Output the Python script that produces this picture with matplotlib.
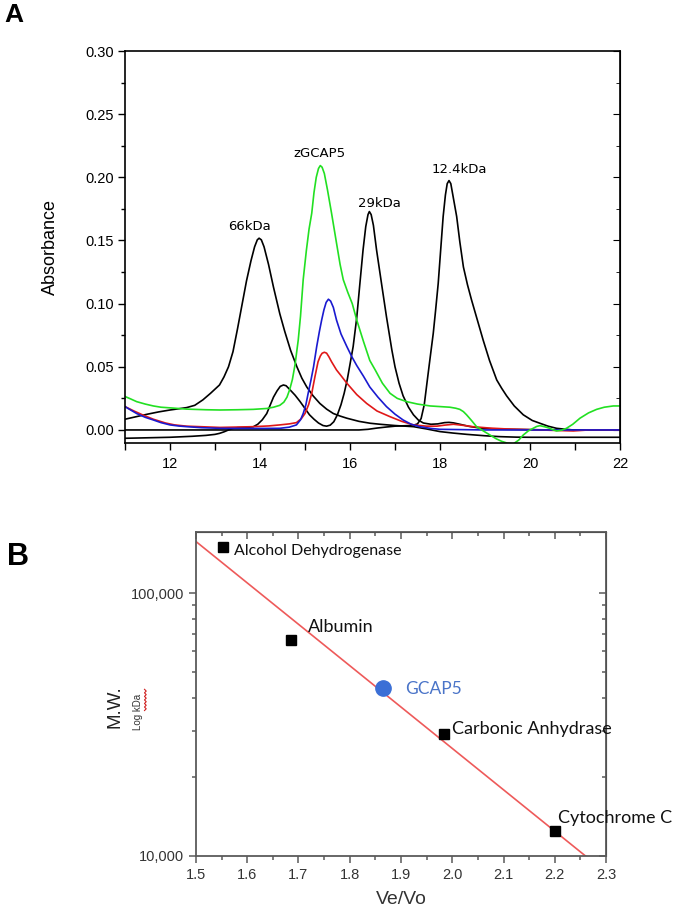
import matplotlib
matplotlib.use("Agg")
import matplotlib.pyplot as plt
import numpy as np
from matplotlib.lines import Line2D

# ---- panel A : elution profiles (elution volume, absorbance) ----
x_66 = [11.0, 11.25, 11.5, 11.75, 12.0, 12.2, 12.37, 12.55, 12.73, 12.9, 13.1, 13.2, 13.3, 13.4,
        13.5, 13.6, 13.7, 13.8, 13.88, 13.94, 13.98, 14.03, 14.09, 14.19, 14.3, 14.44, 14.55,
        14.68, 14.82, 14.93, 15.04, 15.18, 15.33, 15.48, 15.63, 15.78, 15.93, 16.2, 16.45, 16.67,
        17.0, 17.41, 17.7, 18.0, 18.3, 18.6, 19.0, 19.33, 19.7, 20.0, 22.0]
y_66 = [0.0085, 0.0105, 0.0125, 0.0143, 0.0158, 0.0168, 0.0177, 0.0195, 0.0238, 0.029, 0.0356,
        0.042, 0.050, 0.062, 0.080, 0.099, 0.118, 0.134, 0.145, 0.1505, 0.1518, 0.1505, 0.145,
        0.131, 0.113, 0.092, 0.078, 0.063, 0.050, 0.041, 0.034, 0.027, 0.021, 0.0165, 0.013, 0.011,
        0.0093, 0.0068, 0.0053, 0.0045, 0.0035, 0.0026, 0.0008, -0.0013, -0.0025, -0.0035, -0.0046,
        -0.0053, -0.0057, -0.0058, -0.0058]

x_29 = [11.0, 11.5, 12.0, 12.5, 12.8, 13.0, 13.1, 13.2, 13.3, 13.4, 13.5, 13.7, 13.85, 13.95,
        14.05, 14.15, 14.23, 14.3, 14.38, 14.45, 14.52, 14.58, 14.67, 14.78, 14.89, 15.0, 15.1,
        15.2, 15.3, 15.4, 15.48, 15.56, 15.64, 15.72, 15.8, 15.87, 15.94, 16.0, 16.07, 16.15, 16.22,
        16.29, 16.35, 16.4, 16.43, 16.47, 16.52, 16.59, 16.70, 16.81, 16.93, 17.0, 17.09, 17.18,
        17.3, 17.41, 17.52, 17.63, 17.8, 17.95, 18.1, 18.2, 18.3, 18.44, 18.65, 18.89, 19.2, 19.5,
        20.5, 22.0]
y_29 = [-0.0066, -0.0062, -0.0058, -0.005, -0.0043, -0.0035, -0.0027, -0.0015, 0.0, 0.0012, 0.0018,
        0.002, 0.0025, 0.0045, 0.008, 0.013, 0.020, 0.026, 0.031, 0.0345, 0.0356, 0.035, 0.0317,
        0.0275, 0.0225, 0.017, 0.012, 0.0085, 0.0055, 0.0035, 0.003, 0.0038, 0.0065, 0.012, 0.020,
        0.029, 0.040, 0.052, 0.066, 0.089, 0.116, 0.1425, 0.161, 0.1705, 0.1729, 0.1705, 0.162,
        0.1425, 0.116, 0.0897, 0.0633, 0.050, 0.037, 0.027, 0.018, 0.012, 0.0078, 0.0055, 0.0045,
        0.0048, 0.0058, 0.006, 0.0056, 0.0045, 0.0028, 0.0015, 0.0008, 0.0005, 0.0, 0.0]

x_12 = [11.0, 16.2, 16.4, 16.6, 16.8, 17.0, 17.2, 17.4, 17.5, 17.58, 17.65, 17.72, 17.78, 17.85,
        17.9, 17.96, 18.02, 18.07, 18.12, 18.16, 18.2, 18.24, 18.29, 18.37, 18.44, 18.52, 18.61,
        18.70, 18.83, 18.96, 19.1, 19.26, 19.37, 19.48, 19.65, 19.85, 20.05, 20.22, 20.4, 20.59,
        20.8, 20.96, 22.0]
y_12 = [0.0, 0.0, 0.0005, 0.0015, 0.0023, 0.003, 0.0033, 0.0036, 0.0048, 0.009, 0.020, 0.040,
        0.057, 0.0765, 0.094, 0.116, 0.145, 0.169, 0.186, 0.195, 0.1974, 0.195, 0.185, 0.169, 0.149,
        0.129, 0.115, 0.103, 0.087, 0.071, 0.055, 0.0396, 0.033, 0.027, 0.019, 0.012, 0.0075,
        0.0053, 0.003, 0.0013, 0.0005, 0.0, 0.0]

x_green = [11.0, 11.13, 11.26, 11.45, 11.63, 11.8, 12.0, 12.37, 12.8, 13.11, 13.5, 13.85, 14.15,
           14.3, 14.44, 14.53, 14.6, 14.66, 14.72, 14.78, 14.85, 14.9, 14.96, 15.03, 15.09, 15.15,
           15.2, 15.25, 15.3, 15.34, 15.38, 15.43, 15.5, 15.59, 15.7, 15.78, 15.85, 15.95, 16.05,
           16.15, 16.3, 16.44, 16.56, 16.72, 16.89, 17.05, 17.26, 17.5, 17.78, 18.0, 18.22, 18.35,
           18.44, 18.52, 18.59, 18.7, 18.81, 18.95, 19.11, 19.25, 19.37, 19.5, 19.63, 19.75, 19.85,
           19.96, 20.07, 20.15, 20.22, 20.33, 20.44, 20.52, 20.59, 20.7, 20.81, 20.95, 21.11, 21.3,
           21.48, 21.65, 21.85, 22.0]
y_green = [0.0265, 0.0245, 0.0224, 0.0205, 0.019, 0.018, 0.0175, 0.0165, 0.016, 0.0158, 0.016,
           0.0163, 0.017, 0.018, 0.0195, 0.022, 0.026, 0.032, 0.040, 0.052, 0.0713, 0.090, 0.119,
           0.142, 0.159, 0.1716, 0.188, 0.200, 0.207, 0.2093, 0.208, 0.203, 0.190, 0.1716, 0.148,
           0.131, 0.119, 0.109, 0.100, 0.087, 0.070, 0.055, 0.0475, 0.037, 0.029, 0.025, 0.0224,
           0.0205, 0.019, 0.0185, 0.018, 0.0172, 0.0163, 0.0145, 0.012, 0.0075, 0.0027, -0.0005,
           -0.004, -0.007, -0.009, -0.0105, -0.011, -0.008, -0.004, -0.0008, 0.0013, 0.0028, 0.0034,
           0.0025, 0.0013, 0.0, -0.0008, -0.0002, 0.0013, 0.0045, 0.0093, 0.0135, 0.0163, 0.018,
           0.019, 0.019]

x_blue = [11.0, 11.13, 11.26, 11.45, 11.63, 11.8, 12.0, 12.2, 12.37, 12.7, 13.11, 14.0, 14.44,
          14.65, 14.81, 14.9, 14.96, 15.02, 15.07, 15.13, 15.19, 15.26, 15.32, 15.37, 15.42, 15.47,
          15.52, 15.57, 15.63, 15.7, 15.8, 15.93, 16.04, 16.15, 16.3, 16.44, 16.62, 16.81, 17.0,
          17.18, 17.36, 17.55, 17.8, 18.0, 19.0, 22.0]
y_blue = [0.0185, 0.0157, 0.013, 0.010, 0.0079, 0.0058, 0.004, 0.0031, 0.0026, 0.0018, 0.0013,
          0.0012, 0.0013, 0.0022, 0.004, 0.008, 0.013, 0.020, 0.029, 0.039, 0.050, 0.066, 0.078,
          0.087, 0.095, 0.101, 0.1035, 0.102, 0.097, 0.087, 0.076, 0.066, 0.058, 0.051, 0.0425,
          0.034, 0.026, 0.0185, 0.0125, 0.0079, 0.0045, 0.0026, 0.0012, 0.0005, 0.0, 0.0]

x_red = [11.0, 11.2, 11.4, 11.63, 11.9, 12.1, 12.37, 13.11, 13.5, 13.85, 14.2, 14.44, 14.65, 14.81,
         14.92, 15.0, 15.08, 15.15, 15.22, 15.29, 15.34, 15.38, 15.43, 15.48, 15.53, 15.59, 15.7,
         15.8, 15.93, 16.15, 16.37, 16.6, 16.89, 17.15, 17.41, 17.7, 17.93, 18.1, 18.3, 18.5, 18.73,
         19.1, 19.48, 20.22, 20.96, 21.3, 22.0]
y_red = [0.0185, 0.015, 0.0118, 0.0085, 0.0055, 0.004, 0.003, 0.002, 0.0023, 0.0026, 0.0032, 0.004,
         0.0048, 0.0058, 0.009, 0.013, 0.020, 0.029, 0.042, 0.054, 0.0585, 0.0607, 0.0615, 0.0608,
         0.058, 0.054, 0.0475, 0.043, 0.037, 0.028, 0.021, 0.015, 0.0105, 0.0068, 0.004, 0.003,
         0.003, 0.0038, 0.0045, 0.0037, 0.0026, 0.0015, 0.0008, 0.0, -0.0008, 0.0, 0.0]

peak_labels = ["66kDa", "zGCAP5", "29kDa", "12.4kDa"]
peak_label_x = [13.77, 15.33, 16.66, 18.42]
peak_label_y = [0.161, 0.2185, 0.1795, 0.2064]

# ---- panel B : calibration ----
std_names = ["Alcohol Dehydrogenase", "Albumin", "Carbonic Anhydrase", "Cytochrome C"]
std_vevo = [1.552, 1.685, 1.984, 2.200]
std_mw = [150000, 66000, 29000, 12400]
gcap_vevo = 1.865
gcap_mw = 43700
fit_x = [1.5, 2.26]
fit_mw = [157000, 10000]

fig = plt.figure(figsize=(6.8, 9.24), dpi=100)

# ================= A =================
ax = fig.add_axes([0.1838, 0.5206, 0.728, 0.4242])
lw = 1.2
ax.plot(x_66, y_66, color="black", lw=lw)
ax.plot(x_29, y_29, color="black", lw=lw)
ax.plot(x_12, y_12, color="black", lw=lw)
ax.plot(x_red, y_red, color="#e01818", lw=lw)
ax.plot(x_blue, y_blue, color="#1a1ad0", lw=lw)
ax.plot(x_green, y_green, color="#22e022", lw=lw)
for t, px, py in zip(peak_labels, peak_label_x, peak_label_y):
    ax.text(px, py, t, ha="center", va="center", fontsize=9.5, family="DejaVu Sans")

ax.set_xlim(11, 22)
ax.set_ylim(-0.0103, 0.30)
ax.set_xticks([12, 14, 16, 18, 20, 22])
ax.set_xticks([11, 13, 15, 17, 19, 21], minor=True)
ax.set_yticks([0.0, 0.05, 0.10, 0.15, 0.20, 0.25, 0.30])
ax.set_yticks(np.arange(0.025, 0.30, 0.05), minor=True)
ax.yaxis.set_major_formatter(plt.FormatStrFormatter("%.2f"))
ax.tick_params(axis="both", which="both", direction="out", labelsize=10.5, width=1)
ax.tick_params(axis="x", which="both", length=5, pad=5)
ax.tick_params(axis="y", which="major", length=5, pad=3)
ax.tick_params(axis="y", which="minor", length=3)
for lab in ax.get_xticklabels() + ax.get_yticklabels():
    lab.set_family("Liberation Sans")
for s in ax.spines.values():
    s.set_linewidth(1.2)
sec = ax.secondary_yaxis("right")
sec.set_yticks([0.0, 0.05, 0.10, 0.15, 0.20, 0.25, 0.30])
sec.set_yticks(np.arange(0.025, 0.30, 0.05), minor=True)
sec.tick_params(which="both", direction="in", labelright=False)
sec.tick_params(which="major", length=5)
sec.tick_params(which="minor", length=3)

fig.text(0.0735, 0.733, "Absorbance", rotation=90, ha="center", va="center",
         fontsize=13, family="Liberation Sans")
fig.text(0.006, 0.984, "A", fontsize=19, fontweight="bold", family="Liberation Sans",
         ha="left", va="center")

# ================= B =================
gray = "#5a5a5a"
bx = fig.add_axes([0.2882, 0.0736, 0.603, 0.3506])
bx.set_yscale("log")
bx.plot(fit_x, fit_mw, color="#ee5a5a", lw=1.2, zorder=2)
bx.plot(std_vevo, std_mw, "s", color="black", ms=7, zorder=3)
bx.plot([gcap_vevo], [gcap_mw], "o", color="#3b6fd6", ms=11, zorder=3)

lbl_x = [1.575, 1.718, 2.0, 2.207]
lbl_y = [145000, 74000, 30500, 14000]
lbl_fs = [11.5, 13, 13, 13]
for n, tx, ty, fs in zip(std_names, lbl_x, lbl_y, lbl_fs):
    bx.text(tx, ty, n, fontsize=fs, family="Lato", ha="left", va="center", color="#111111")
bx.text(1.909, 43000, "GCAP5", fontsize=12.5, family="Lato", ha="left", va="center",
        color="#4a74c8")

bx.set_xlim(1.5, 2.3)
bx.set_ylim(10000, 170600)
bx.set_xticks(np.arange(1.5, 2.31, 0.1))
bx.set_xticks(np.arange(1.55, 2.3, 0.1), minor=True)
bx.xaxis.set_major_formatter(plt.FormatStrFormatter("%.1f"))
bx.set_yticks([10000, 100000])
bx.set_yticklabels(["10,000", "100,000"])
bx.yaxis.set_minor_formatter(plt.NullFormatter())
bx.tick_params(axis="both", which="both", direction="out", colors=gray, labelcolor="#333333",
               labelsize=10.5, width=1.1)
bx.tick_params(which="major", length=5)
bx.tick_params(which="minor", length=3)
for lab in bx.get_xticklabels() + bx.get_yticklabels():
    lab.set_family("Liberation Sans")
for s in bx.spines.values():
    s.set_color(gray)
    s.set_linewidth(1.3)

bsec_y = bx.secondary_yaxis("right")
bsec_y.set_yticks([10000, 100000])
bsec_y.tick_params(which="both", direction="in", labelright=False, colors=gray, width=1.1)
bsec_y.tick_params(which="major", length=5)
bsec_y.tick_params(which="minor", length=3)
bsec_y.yaxis.set_minor_formatter(plt.NullFormatter())
bsec_x = bx.secondary_xaxis("top")
bsec_x.set_xticks(np.arange(1.5, 2.31, 0.1))
bsec_x.set_xticks(np.arange(1.55, 2.3, 0.1), minor=True)
bsec_x.tick_params(which="both", direction="in", labeltop=False, colors=gray, width=1.1)
bsec_x.tick_params(which="major", length=5)
bsec_x.tick_params(which="minor", length=3)

fig.text(0.590, 0.026, "Ve/Vo", ha="center", va="center", fontsize=14,
         family="Liberation Sans", color="#333333")
fig.text(0.169, 0.235, "M.W.", rotation=90, ha="center", va="center", fontsize=13.5,
         family="Liberation Sans", color="#222222")
fig.text(0.203, 0.229, "Log kDa", rotation=90, ha="center", va="center", fontsize=7,
         family="Liberation Sans", color="#333333")
# red spell-check squiggle beside "kDa"
sq_y = np.linspace(0.231, 0.254, 13)
sq_x = 0.2125 + 0.0025 * (np.arange(13) % 2)
fig.add_artist(Line2D(sq_x, sq_y, color="#d02020", lw=0.8, transform=fig.transFigure))
fig.text(0.010, 0.397, "B", fontsize=22, fontweight="bold", family="Liberation Sans",
         ha="left", va="center")

fig.savefig("out.png", dpi=100)
